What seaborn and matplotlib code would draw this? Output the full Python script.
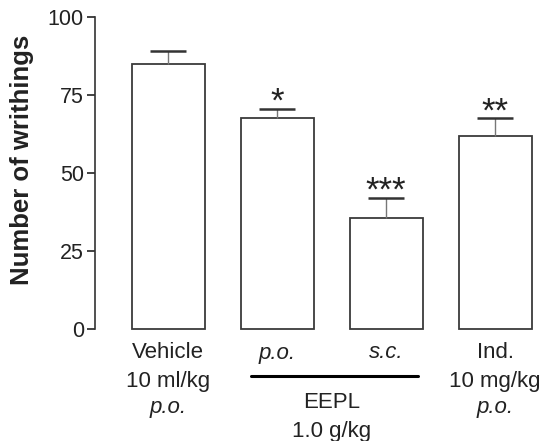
import pandas as pd
import matplotlib
matplotlib.use('Agg')
import matplotlib.pyplot as plt
import seaborn as sns

# Values
groups = ['Vehicle', 'EEPL p.o.', 'EEPL s.c.', 'Ind.']
writhings = [85, 67.5, 35.5, 62]
sem = [4, 3, 6.5, 5.5]
stars = ['', '*', '***', '**']

df = pd.DataFrame({'group': groups, 'writhings': writhings})

sns.set_style('ticks')
plt.rcParams['font.family'] = ['Liberation Sans', 'DejaVu Sans']

fig = plt.figure(figsize=(5.41, 4.41), dpi=100)
ax = fig.add_axes([95 / 541, 1 - 329 / 441, 1 - 95 / 541, 312 / 441])

sns.barplot(data=df, x='group', y='writhings', color='white', edgecolor='#3a3a3a',
            linewidth=1.3, width=0.67, errorbar=None, ax=ax)
for p in ax.patches:
    p.set_clip_on(False)

# upper error bars only
x = list(range(len(groups)))
ax.errorbar(x, writhings, yerr=[[0] * len(sem), sem], fmt='none', ecolor='#777777',
            elinewidth=1.0, capsize=0, clip_on=False)
ax.errorbar(x, [w + s for w, s in zip(writhings, sem)], fmt='none', xerr=0.165,
            ecolor='#333333', elinewidth=1.8, capsize=0, clip_on=False)

for xi, w, s, st in zip(x, writhings, sem, stars):
    if st:
        ax.annotate(st, xy=(xi, w + s), xytext=(0, -7), textcoords='offset points',
                    ha='center', va='bottom', fontsize=25, color='#222222')

ax.set_xlim(-0.67, 3.42)
ax.set_ylim(0, 100)
ax.set_yticks([0, 25, 50, 75, 100])
ax.tick_params(axis='y', direction='out', length=6, width=1.2, labelsize=15.5,
               colors='#222222', pad=2)
ax.set_xticks([])
ax.set_xlabel('')
ax.set_ylabel('Number of writhings', fontsize=18.5, fontweight='bold', color='#222222')
ax.yaxis.set_label_coords(-0.137, 0.542)
sns.despine(ax=ax, bottom=True)
ax.spines['left'].set_linewidth(1.2)
ax.spines['left'].set_color('#333333')

# group labels under the bars
px = 0.72
labels = [
    (0, 24, 'Vehicle', 'normal'), (0, 52, '10 ml/kg', 'normal'), (0, 78, 'p.o.', 'italic'),
    (1, 24, 'p.o.', 'italic'), (2, 24, 's.c.', 'italic'),
    (1.5, 73, 'EEPL', 'normal'), (1.5, 102, '1.0 g/kg', 'normal'),
    (3, 24, 'Ind.', 'normal'), (3, 52, '10 mg/kg', 'normal'), (3, 78, 'p.o.', 'italic'),
]
for lx, off, txt, style in labels:
    ax.annotate(txt, xy=(lx, 0), xycoords='data', xytext=(0, -off * px),
                textcoords='offset points', ha='center', va='center',
                fontsize=16, style=style, color='#222222', annotation_clip=False)

ax.plot([0.76, 2.29], [0, 0], color='black', lw=2.2, clip_on=False,
        transform=ax.transData + matplotlib.transforms.ScaledTranslation(0, -47 / 100, fig.dpi_scale_trans))

fig.savefig('out.png', dpi=100)
